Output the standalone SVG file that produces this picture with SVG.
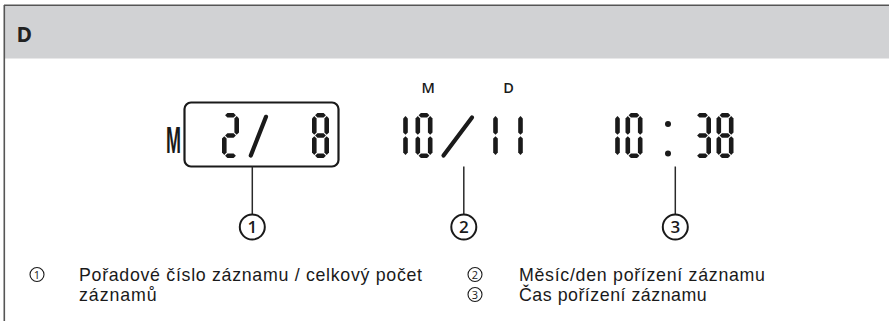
<svg xmlns="http://www.w3.org/2000/svg" xmlns:xlink="http://www.w3.org/1999/xlink" width="889" height="321" viewBox="0 0 889 321">
  <style>
    .seg { fill: #1a1a1a; }
    .conn { stroke: #2a2a2a; stroke-width: 1.5; fill: none; }
    .slash { stroke: #1a1a1a; stroke-width: 4.2; stroke-linecap: round; fill: none; }
    .bigc { fill: #ffffff; stroke: #1a1a1a; stroke-width: 2; }
    .bign { font-family: "Open Sans", "Liberation Sans", sans-serif; font-weight: 600; font-size: 17px; fill: #1a1a1a; text-anchor: middle; }
    .smc { fill: none; stroke: #1a1a1a; stroke-width: 1.1; }
    .smn { font-family: "Open Sans", "Liberation Sans", sans-serif; font-size: 11px; fill: #1a1a1a; text-anchor: middle; }
    .leg { font-family: "Liberation Sans", "Open Sans", sans-serif; font-size: 17.8px; fill: #1a1a1a; }
    .lbl { font-family: "Open Sans", "Liberation Sans", sans-serif; font-weight: 600; font-size: 14.5px; fill: #1a1a1a; text-anchor: middle; }
    .dot { fill: #1a1a1a; }
  </style>
  <defs>
    <polygon id="sa" class="seg" points="3.1,2.3 5.4,0 11.6,0 13.9,2.3 11.6,4.6 5.4,4.6"/>
    <polygon id="sg" class="seg" points="3.1,22.5 5.4,20.2 11.6,20.2 13.9,22.5 11.6,24.8 5.4,24.8"/>
    <polygon id="sd" class="seg" points="3.1,42.7 5.4,40.4 11.6,40.4 13.9,42.7 11.6,45 5.4,45"/>
    <polygon id="sf" class="seg" points="2.3,3.1 4.6,5.4 4.6,19.4 2.3,21.7 0,19.4 0,5.4"/>
    <polygon id="sb" class="seg" points="14.7,3.1 17,5.4 17,19.4 14.7,21.7 12.4,19.4 12.4,5.4"/>
    <polygon id="se" class="seg" points="2.3,23.3 4.6,25.6 4.6,39.6 2.3,41.9 0,39.6 0,25.6"/>
    <polygon id="sc" class="seg" points="14.7,23.3 17,25.6 17,39.6 14.7,41.9 12.4,39.6 12.4,25.6"/>
    <g id="d0"><use xlink:href="#sa"/><use xlink:href="#sb"/><use xlink:href="#sc"/><use xlink:href="#sd"/><use xlink:href="#se"/><use xlink:href="#sf"/></g>
    <g id="d1"><use xlink:href="#sb"/><use xlink:href="#sc"/></g>
    <g id="d2"><use xlink:href="#sa"/><use xlink:href="#sb"/><use xlink:href="#sg"/><use xlink:href="#se"/><use xlink:href="#sd"/></g>
    <g id="d3"><use xlink:href="#sa"/><use xlink:href="#sb"/><use xlink:href="#sg"/><use xlink:href="#sc"/><use xlink:href="#sd"/></g>
    <g id="d8"><use xlink:href="#sa"/><use xlink:href="#sb"/><use xlink:href="#sc"/><use xlink:href="#sd"/><use xlink:href="#se"/><use xlink:href="#sf"/><use xlink:href="#sg"/></g>
  </defs>

  <rect x="0" y="0" width="889" height="321" fill="#ffffff"/>

  <g id="header">
    <rect x="4" y="5" width="885" height="53.5" fill="#d1d2d4"/>
    <line x1="4" y1="5.2" x2="889" y2="5.2" stroke="#555555" stroke-width="1.6"/>
    <line x1="4.3" y1="5" x2="4.3" y2="321" stroke="#555555" stroke-width="1.6"/>
    <text x="16.5" y="41.8" font-family="Open Sans, Liberation Sans, sans-serif" font-weight="700" font-size="21" fill="#222222">D</text>
  </g>

  <g id="display1">
    <text x="166" y="153" font-family="Liberation Sans, sans-serif" font-weight="700" font-size="36" fill="#1a1a1a" textLength="15" lengthAdjust="spacingAndGlyphs">M</text>
    <rect x="184.5" y="102.5" width="154" height="64" rx="6.5" fill="none" stroke="#1a1a1a" stroke-width="2.2"/>
    <use xlink:href="#d2" transform="translate(222,113)"/>
    <line class="slash" x1="250.8" y1="155.5" x2="266" y2="116.8"/>
    <use xlink:href="#d8" transform="translate(312,113)"/>
  </g>

  <g id="display2">
    <text class="lbl" x="428.3" y="93">M</text>
    <text class="lbl" x="508.5" y="93">D</text>
    <use xlink:href="#d1" transform="translate(390.8,113)"/>
    <use xlink:href="#d0" transform="translate(415.5,113)"/>
    <line class="slash" x1="443.5" y1="155.5" x2="472" y2="117.5"/>
    <use xlink:href="#d1" transform="translate(480.8,113)"/>
    <use xlink:href="#d1" transform="translate(505.8,113)"/>
  </g>

  <g id="display3">
    <use xlink:href="#d1" transform="translate(602.8,113)"/>
    <use xlink:href="#d0" transform="translate(625.5,113)"/>
    <circle class="dot" cx="668" cy="124" r="3"/>
    <circle class="dot" cx="668" cy="153.5" r="3"/>
    <use xlink:href="#d3" transform="translate(694,113)"/>
    <use xlink:href="#d8" transform="translate(716.5,113)"/>
  </g>

  <g id="connectors">
    <line class="conn" x1="252.3" y1="166.5" x2="252.3" y2="214.5"/>
    <line class="conn" x1="463.8" y1="166.5" x2="463.8" y2="214.5"/>
    <line class="conn" x1="675.3" y1="166.5" x2="675.3" y2="214.5"/>
  </g>

  <g id="callout1">
    <circle class="bigc" cx="252.3" cy="227" r="12.5"/>
    <text class="bign" x="252.3" y="233.2">1</text>
  </g>
  <g id="callout2">
    <circle class="bigc" cx="463.8" cy="227" r="12.5"/>
    <text class="bign" x="463.8" y="233.2">2</text>
  </g>
  <g id="callout3">
    <circle class="bigc" cx="675.3" cy="227" r="12.5"/>
    <text class="bign" x="675.3" y="233.2">3</text>
  </g>

  <g id="legend1">
    <circle class="smc" cx="37" cy="274.5" r="7"/>
    <text class="smn" x="37" y="278.5">1</text>
    <text class="leg" x="79" y="280.7" textLength="343" lengthAdjust="spacing">Pořadové číslo záznamu / celkový počet</text>
    <text class="leg" x="79" y="300.7" textLength="77.7" lengthAdjust="spacing">záznamů</text>
  </g>
  <g id="legend2">
    <circle class="smc" cx="475" cy="274.5" r="7"/>
    <text class="smn" x="475" y="278.5">2</text>
    <text class="leg" x="519" y="280.7" textLength="246" lengthAdjust="spacing">Měsíc/den pořízení záznamu</text>
  </g>
  <g id="legend3">
    <circle class="smc" cx="475" cy="294.5" r="7"/>
    <text class="smn" x="475" y="298.5">3</text>
    <text class="leg" x="519" y="300.7" textLength="187.7" lengthAdjust="spacing">Čas pořízení záznamu</text>
  </g>
</svg>
